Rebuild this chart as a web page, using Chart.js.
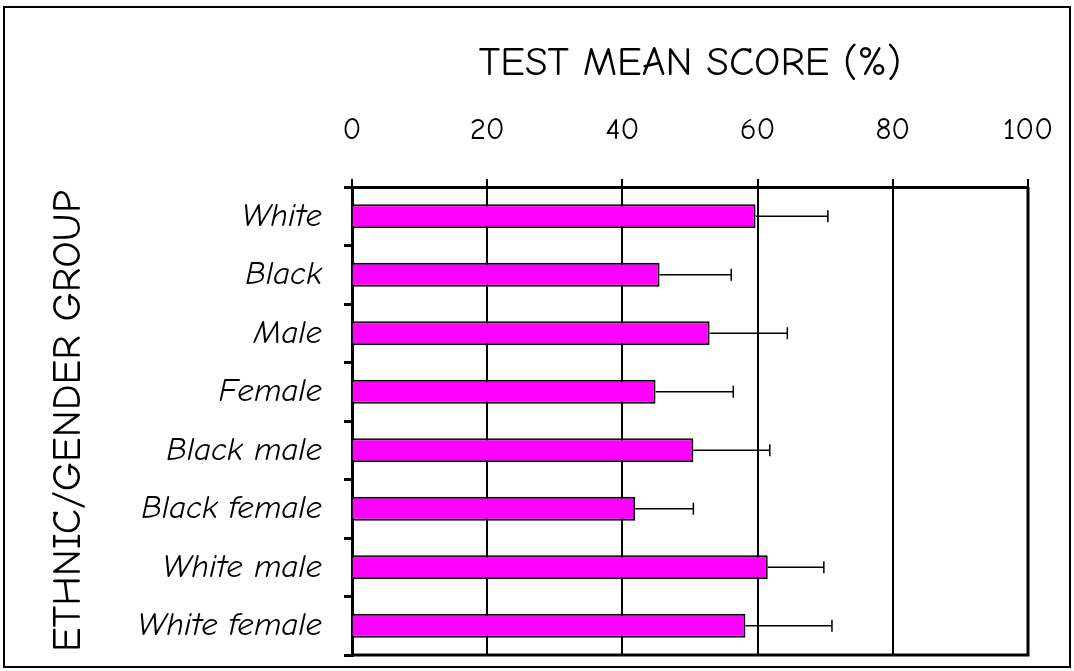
<!DOCTYPE html>
<html>
<head>
<meta charset="utf-8">
<script src="https://cdn.jsdelivr.net/npm/chart.js@4/dist/chart.umd.min.js"></script>
<style>
html,body{margin:0;padding:0;background:#fff;overflow:hidden;}
#wrap{width:1074px;height:671px;position:relative;}
</style>
</head>
<body>
<div id="wrap"><canvas id="c" width="1074" height="671"></canvas></div>
<script>
const categories = ["White","Black","Male","Female","Black male","Black female","White male","White female"];
const meanScores = [59.7,45.5,52.9,44.9,50.5,41.9,61.5,58.2];
const errorPlus = [10.7,10.6,11.5,11.5,11.3,8.6,8.3,12.8];
const xTicks = [0,20,40,60,80,100];
const xTitle = "TEST MEAN SCORE (%)";
const yTitle = "ETHNIC/GENDER GROUP";

const FONT = '"Comic Sans MS","Comic Neue","DejaVu Sans",sans-serif';

const framePlugin = {
  id:'frame',
  afterDatasetsDraw(chart){
    const ctx = chart.ctx;
    const xs = chart.scales.x;
    const meta = chart.getDatasetMeta(0);
    ctx.save();
    ctx.strokeStyle = '#000';
    ctx.lineWidth = 1.5;
    meta.data.forEach((bar,i)=>{
      const x0 = xs.getPixelForValue(meanScores[i]);
      const x1 = xs.getPixelForValue(meanScores[i]+errorPlus[i]);
      const y = bar.y;
      ctx.beginPath();
      ctx.moveTo(x0,y); ctx.lineTo(x1,y);
      ctx.moveTo(x1,y-6); ctx.lineTo(x1,y+6);
      ctx.stroke();
    });
    const a = chart.chartArea;
    ctx.lineWidth = 3;
    ctx.beginPath();
    ctx.moveTo(a.left,a.bottom); ctx.lineTo(a.right+1.5,a.bottom);
    ctx.moveTo(a.right,a.top); ctx.lineTo(a.right,a.bottom);
    ctx.stroke();
    ctx.lineWidth = 2;
    ctx.strokeRect(4,7,1066,660);
    ctx.restore();
  }
};

new Chart(document.getElementById('c'),{
  type:'bar',
  data:{
    labels:categories,
    datasets:[{
      data:meanScores,
      backgroundColor:'#FF00FF',
      borderColor:'#000',
      borderWidth:2,
      barPercentage:0.41,
      categoryPercentage:1
    }]
  },
  options:{
    indexAxis:'y',
    responsive:false,
    animation:false,
    devicePixelRatio:1,
    layout:{padding:{left:0,top:0,right:46,bottom:16}},
    plugins:{legend:{display:false},tooltip:{enabled:false}},
    scales:{
      x:{
        position:'top',
        min:0,max:100,
        afterBuildTicks(s){ s.ticks = xTicks.map(v=>({value:v})); },
        afterFit(s){ s.height = 187; s.paddingLeft = 0; s.paddingRight = 0; },
        ticks:{color:'#000',font:{family:FONT,size:31},padding:30,maxRotation:0},
        grid:{color:'#000',lineWidth:2,tickLength:8,drawOnChartArea:true},
        border:{color:'#000',width:3},
        title:{display:true,text:xTitle,color:'#000',font:{family:FONT,size:41},padding:{top:39,bottom:0}}
      },
      y:{
        afterFit(s){ s.width = 352; s.paddingTop = 0; s.paddingBottom = 0; },
        ticks:{color:'#000',font:{family:FONT,size:33,style:'italic'},padding:22},
        grid:{color:'#000',lineWidth:3,tickLength:8,drawOnChartArea:false,offset:true},
        border:{color:'#000',width:3},
        title:{display:true,text:yTitle,color:'#000',font:{family:FONT,size:41},padding:{top:44,bottom:0}}
      }
    }
  },
  plugins:[framePlugin]
});
</script>
</body>
</html>
